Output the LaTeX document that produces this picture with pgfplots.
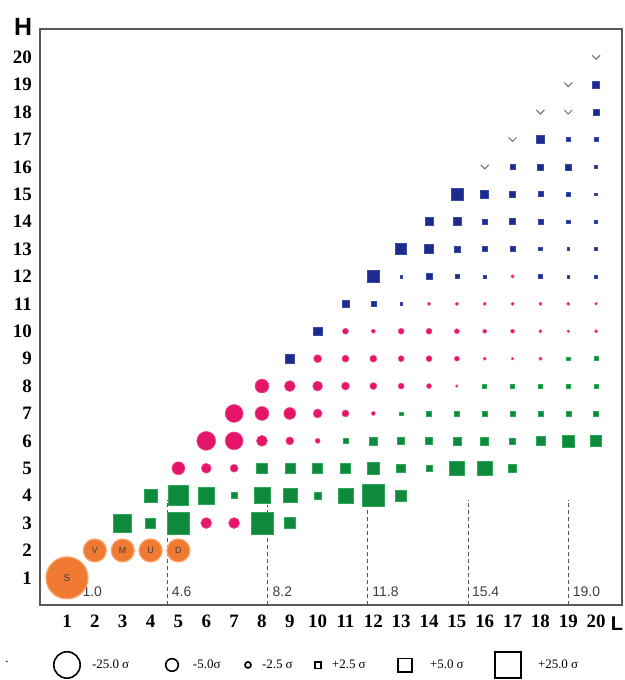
\documentclass[border=0pt]{standalone}
\usepackage{fontspec}
\setmainfont{Liberation Serif}
\setsansfont{Liberation Sans}
\usepackage{pgfplots}
\pgfplotsset{compat=1.18}
\usepackage{pgfplotstable}

\definecolor{gfill}{HTML}{0F8A3C}
\definecolor{gdraw}{HTML}{2DAA55}
\definecolor{mfill}{HTML}{E5166A}
\definecolor{mdraw}{HTML}{F0508A}
\definecolor{bfill}{HTML}{1D2B8E}
\definecolor{bdraw}{HTML}{3A4AAA}
\definecolor{ofill}{HTML}{F07A32}
\definecolor{odraw}{HTML}{F7A66A}
\definecolor{chev}{HTML}{6E6E6E}
\definecolor{dashc}{HTML}{555555}

\pgfdeclareplotmark{chevron}{%
  \pgfpathmoveto{\pgfqpoint{-\pgfplotmarksize}{0.5\pgfplotmarksize}}%
  \pgfpathlineto{\pgfqpoint{0pt}{-0.5\pgfplotmarksize}}%
  \pgfpathlineto{\pgfqpoint{\pgfplotmarksize}{0.5\pgfplotmarksize}}%
  \pgfusepathqstroke}

\pgfplotstableread{
L H r
3 3 9
4 3 5
4 4 6.5
5 3 11
5 4 10
6 4 8.5
7 4 3
8 3 11
8 4 8
8 5 5.5
9 3 5.5
9 4 7
9 5 5
10 4 3.5
10 5 5
11 4 7.5
11 5 5
11 6 2.5
12 4 11
12 5 6
12 6 4
13 4 5.5
13 5 4.5
13 6 3.5
13 7 1.7
14 5 3
14 6 3.5
14 7 2.5
15 5 7.5
15 6 4
15 7 2.5
16 5 7.5
16 6 4
16 7 2.5
16 8 2
17 5 4
17 6 3
17 7 2.5
17 8 2
18 6 4.5
18 7 2.5
18 8 2
19 6 6
19 7 2.5
19 8 2
19 9 1.7
20 6 5.5
20 7 2.5
20 8 2
20 9 2
}\greendata

\pgfplotstableread{
L H r
5 5 6.5
6 3 5.5
6 5 5
6 6 9.5
7 3 5.5
7 5 4
7 6 9
7 7 9
8 6 5.5
8 7 7
8 8 7
9 6 4
9 7 6
9 8 5.5
10 6 2.5
10 7 4.5
10 8 5
10 9 4
11 7 3.5
11 8 4
11 9 3.5
11 10 3
12 7 2
12 8 3.5
12 9 3.5
12 10 2
13 8 3
13 9 3
13 10 3
14 8 2.5
14 9 3
14 10 3
14 11 1.7
15 8 1.4
15 9 2.5
15 10 2.5
15 11 1.7
16 9 1.7
16 10 2
16 11 1.7
17 9 1.4
17 10 2
17 11 1.7
17 12 1.7
18 9 1.7
18 10 1.7
18 11 1.7
19 10 1.4
19 11 1.7
20 10 1.7
20 11 1.4
}\magentadata

\pgfplotstableread{
L H r
9 9 4.5
10 10 4.5
11 11 3.5
12 11 2.5
12 12 6
13 11 1.4
13 12 1.4
13 13 5.5
14 12 3
14 13 4.5
14 14 4
15 12 2
15 13 3
15 14 4
15 15 6
16 12 1.4
16 13 2.5
16 14 2.5
16 15 4
17 13 2.5
17 14 3
17 15 3
17 16 2.5
18 12 1.7
18 13 1.7
18 14 2.5
18 15 2.5
18 16 3
18 17 4
19 12 1.4
19 13 1.4
19 14 1.7
19 15 2
19 16 3
19 17 1.7
20 12 1.4
20 13 1.4
20 14 1.4
20 15 1.4
20 16 1.4
20 17 1.7
20 18 3
20 19 3.5
}\bluedata

\pgfplotsset{
  sized/.style 2 args={forget plot, scatter, only marks,
    scatter/use mapped color={draw=#1, fill=#2, line width=0.5bp},
    visualization depends on={\thisrow{r} \as \rr},
    scatter/@pre marker code/.append style={/tikz/mark size=\rr}},
}

\begin{document}
\begin{tikzpicture}
\begin{axis}[
  width=582bp, height=576bp, scale only axis,
  xmin=0.03, xmax=20.93, ymin=0.01, ymax=21.03,
  xtick={1,...,20}, ytick={1,...,20},
  major tick length=0pt,
  axis line style={draw=black!65, line width=1.2bp},
  ticklabel style={font=\fontsize{19}{19}\selectfont\bfseries},
  /pgf/number format/assume math mode=true,
  xticklabel style={inner sep=0pt, yshift=-10bp},
  yticklabel style={inner sep=0pt, xshift=-8bp},
  clip=false,
  legend columns=6,
  legend cell align=left,
  legend style={at={(0,0)}, anchor=west, xshift=12bp, yshift=-60bp,
    draw=none, fill=none, inner sep=0pt, outer sep=0pt, column sep=0pt,
    nodes={inner sep=0pt, font=\fontsize{13}{13}\selectfont}},
]
% dashed reference lines
\addplot[forget plot, dashc, dash pattern=on 4bp off 3bp, line width=0.9bp] coordinates {(4.6,0) (4.6,3.85)};
\addplot[forget plot, dashc, dash pattern=on 4bp off 3bp, line width=0.9bp] coordinates {(8.2,0) (8.2,3.65)};
\addplot[forget plot, dashc, dash pattern=on 4bp off 3bp, line width=0.9bp] coordinates {(11.8,0) (11.8,3.65)};
\addplot[forget plot, dashc, dash pattern=on 4bp off 3bp, line width=0.9bp] coordinates {(15.4,0) (15.4,3.85)};
\addplot[forget plot, dashc, dash pattern=on 4bp off 3bp, line width=0.9bp] coordinates {(19.0,0) (19.0,3.85)};

% data markers
\addplot[sized={gdraw}{gfill}, mark=square*] table[x=L, y=H] {\greendata};
\addplot[sized={mdraw}{mfill}, mark=*] table[x=L, y=H] {\magentadata};
\addplot[sized={bdraw}{bfill}, mark=square*] table[x=L, y=H] {\bluedata};

% chevrons
\addplot[forget plot, chev, only marks, mark=chevron, mark size=4bp, mark options={line width=1bp}] coordinates {(16,16) (17,17) (18,18) (19,18) (19,19) (20,20)};

% orange circles with letters
\addplot[forget plot, only marks, mark=*, mark size=21bp, mark options={fill=ofill, draw=odraw, line width=1.2bp},
  nodes near coords, point meta=explicit symbolic,
  every node near coord/.append style={anchor=center, inner sep=0pt, font=\sffamily\fontsize{10}{10}\selectfont, text=black!75}]
  table[x=L, y=H, meta=lab] {
L H lab
1 1 S
};
\addplot[forget plot, only marks, mark=*, mark size=11.5bp, mark options={fill=ofill, draw=odraw, line width=1.2bp},
  nodes near coords, point meta=explicit symbolic,
  every node near coord/.append style={anchor=center, inner sep=0pt, font=\sffamily\fontsize{9}{9}\selectfont, text=black!75}]
  table[x=L, y=H, meta=lab] {
L H lab
2 2 V
3 2 M
4 2 U
5 2 D
};

% dashed-line value labels
\begin{scope}[every node/.style={anchor=west, inner sep=0pt, font=\sffamily\fontsize{14}{14}\selectfont, text=black!75}]
\node at (axis cs:1.55,0.5) {1.0};
\node at (axis cs:4.76,0.5) {4.6};
\node at (axis cs:8.38,0.5) {8.2};
\node at (axis cs:11.96,0.5) {11.8};
\node at (axis cs:15.54,0.5) {15.4};
\node at (axis cs:19.16,0.5) {19.0};
\end{scope}

% axis letters
\node[font=\sffamily\bfseries\fontsize{25}{25}\selectfont] at (rel axis cs:0,1) [xshift=-17bp, yshift=2bp] {H};
\node[font=\sffamily\bfseries\fontsize{20}{20}\selectfont] at (rel axis cs:1,0) [xshift=-5bp, yshift=-19bp] {L};
\node[anchor=base, inner sep=0pt, font=\fontsize{13}{13}\selectfont] at (rel axis cs:0,0) [xshift=-33bp, yshift=-57bp] {.};

% legend
\addlegendimage{legend image code/.code={\path[draw=none] (-15bp,0) -- (25bp,0); \draw[black, line width=1.6bp] (0,0) circle[radius=13.2bp];}}
\addlegendentry{\makebox[72bp][l]{-25.0 σ}}
\addlegendimage{legend image code/.code={\path[draw=none] (-8bp,0) -- (21bp,0); \draw[black, line width=1.6bp] (0,0) circle[radius=6.3bp];}}
\addlegendentry{\makebox[50.5bp][l]{-5.0σ}}
\addlegendimage{legend image code/.code={\path[draw=none] (-4.5bp,0) -- (14bp,0); \draw[black, line width=1.6bp] (0,0) circle[radius=3bp];}}
\addlegendentry{\makebox[51.5bp][l]{-2.5 σ}}
\addlegendimage{legend image code/.code={\path[draw=none] (-4.5bp,0) -- (14bp,0); \draw[black, line width=1.6bp] (-3.2bp,-3.2bp) rectangle (3.2bp,3.2bp);}}
\addlegendentry{\makebox[65bp][l]{+2.5 σ}}
\addlegendimage{legend image code/.code={\path[draw=none] (-8bp,0) -- (25bp,0); \draw[black, line width=1.6bp] (-6.8bp,-6.8bp) rectangle (6.8bp,6.8bp);}}
\addlegendentry{\makebox[63bp][l]{+5.0 σ}}
\addlegendimage{legend image code/.code={\path[draw=none] (-15bp,0) -- (30bp,0); \draw[black, line width=1.6bp] (-13bp,-13bp) rectangle (13bp,13bp);}}
\addlegendentry{\makebox[45bp][l]{+25.0 σ}}
\end{axis}
\pgfresetboundingbox
\path[use as bounding box] (current axis.south west) ++(-40bp,-75bp) rectangle ([xshift=3bp,yshift=29bp]current axis.north east);
\end{tikzpicture}
\end{document}
